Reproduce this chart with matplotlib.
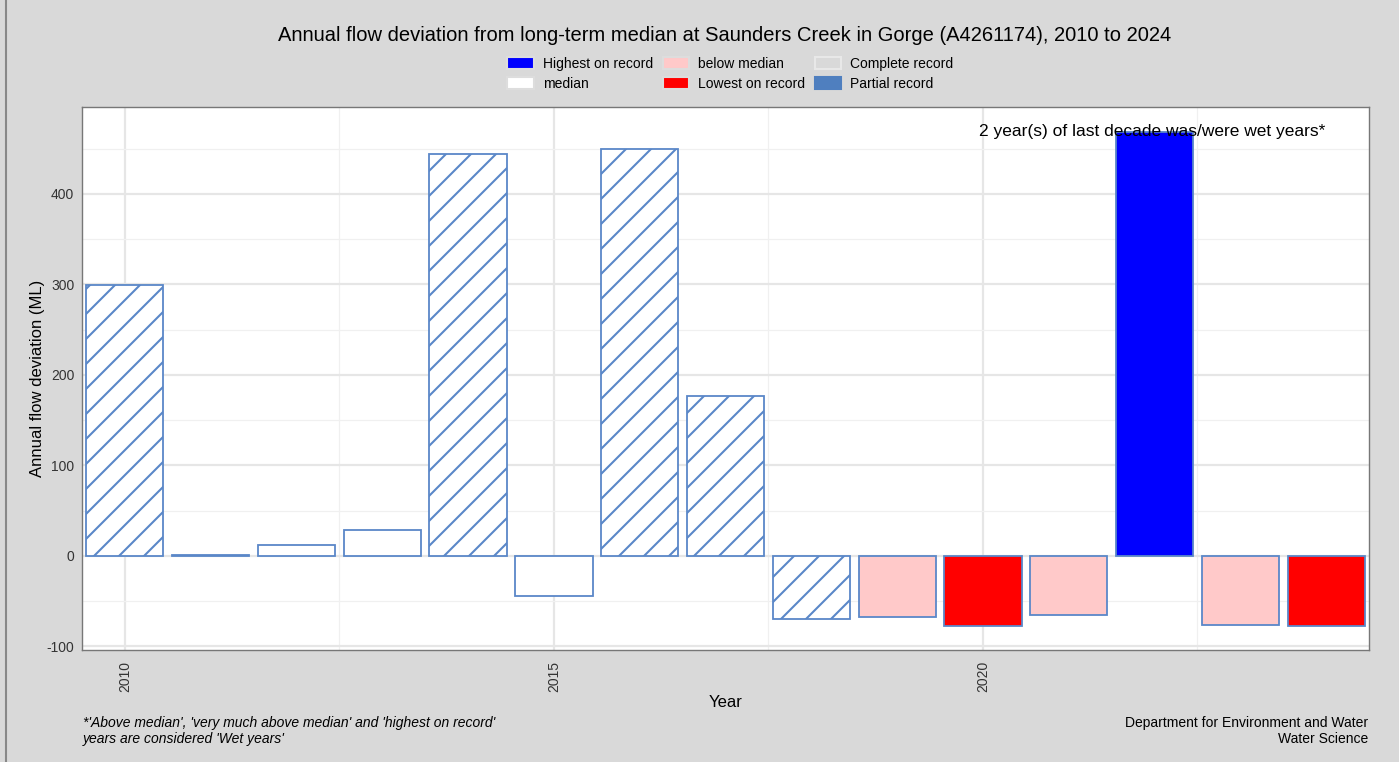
import matplotlib
matplotlib.use("Agg")
import matplotlib.pyplot as plt
from matplotlib.patches import Patch
from matplotlib.ticker import MultipleLocator

# drawn at 150 dpi so the hatch spacing matches; S converts 100-dpi sizes to points
DPI = 150
S = 100 / DPI

plt.rcParams['font.family'] = ['Liberation Sans', 'DejaVu Sans']
plt.rcParams['hatch.linewidth'] = 1.5 * S
plt.rcParams['axes.unicode_minus'] = False

# ---- data ----
years = [2010, 2011, 2012, 2013, 2014, 2015, 2016, 2017, 2018, 2019, 2020, 2021, 2022, 2023, 2024]
deviation = [299, 0.5, 12, 29, 444, -44, 450, 177, -70, -68, -78, -65, 468, -76, -78]
category = ["partial", "median", "median", "median", "partial", "median", "partial", "partial",
            "partial", "below", "lowest", "below", "highest", "below", "lowest"]

edge = "#5A87C8"
fills = {"highest": "#0000FF", "median": "#FFFFFF", "below": "#FFC9C9",
         "lowest": "#FF0000", "partial": "#FFFFFF"}

fig = plt.figure(figsize=(1399 / DPI, 762 / DPI), dpi=DPI, facecolor="#D9D9D9")
ax = fig.add_axes([0.0586, 0.147, 0.92, 0.7126])
ax.set_facecolor("white")

for y, v, c in zip(years, deviation, category):
    ax.bar(y, v, width=0.9, color=fills[c], edgecolor=edge, linewidth=1.3 * S,
           hatch="//" if c == "partial" else None, zorder=3)

ax.set_xlim(2009.5, 2024.5)
ax.set_ylim(-104, 496)
ax.xaxis.set_major_locator(MultipleLocator(5))
ax.xaxis.set_minor_locator(MultipleLocator(2.5))
ax.yaxis.set_major_locator(MultipleLocator(100))
ax.yaxis.set_minor_locator(MultipleLocator(50))
ax.grid(which="major", color="#E6E6E6", linewidth=1.6 * S, zorder=0)
ax.grid(which="minor", color="#F0F0F0", linewidth=0.9 * S, zorder=0)
ax.set_axisbelow(True)
ax.tick_params(which="both", length=0)
ax.tick_params(axis="y", labelsize=10 * S, colors="#333333", pad=5.5 * S)
ax.tick_params(axis="x", labelsize=10 * S, colors="#333333", labelrotation=90, pad=8 * S)
for s in ax.spines.values():
    s.set_color("#777777")
    s.set_linewidth(1.0 * S)

ax.set_xlabel("Year", fontsize=12 * S, labelpad=2 * S)
ax.set_ylabel("Annual flow deviation (ML)", fontsize=12 * S, labelpad=1 * S)

ax.text(0.966, 0.955, "2 year(s) of last decade was/were wet years*", transform=ax.transAxes,
        ha="right", va="center", fontsize=12.5 * S, zorder=5)

fig.text(0.518, 0.954,
         "Annual flow deviation from long-term median at Saunders Creek in Gorge (A4261174), 2010 to 2024",
         ha="center", va="center", fontsize=14.5 * S)

handles = [
    Patch(facecolor=fills["highest"], edgecolor="#DDDDDD", label="Highest on record"),
    Patch(facecolor="white", edgecolor="#DDDDDD", label="median"),
    Patch(facecolor=fills["below"], edgecolor="#DDDDDD", label="below median"),
    Patch(facecolor=fills["lowest"], edgecolor="#DDDDDD", label="Lowest on record"),
    Patch(facecolor="#D9D9D9", edgecolor="#E8E8E8", label="Complete record"),
    Patch(facecolor="#4F7FBF", edgecolor="#4F7FBF", label="Partial record"),
]
fig.legend(handles=handles, ncol=3, loc="center", bbox_to_anchor=(0.522, 0.903),
           frameon=False, fontsize=10 * S, handlelength=1.9, handleheight=1.0,
           columnspacing=0.7, handletextpad=0.65, labelspacing=0.45)

fig.text(0.059, 0.041, "*'Above median', 'very much above median' and 'highest on record'\nyears are considered 'Wet years'",
         fontsize=10 * S, style="italic", ha="left", va="center", linespacing=1.2)
fig.text(0.978, 0.041, "Department for Environment and Water\nWater Science",
         fontsize=10 * S, ha="right", va="center", linespacing=1.2, multialignment="right")

# left edge line of the panel
fig.add_artist(plt.Line2D([0.0045, 0.0045], [0, 1], transform=fig.transFigure,
                          color="#888888", linewidth=1.5 * S))

plt.savefig("out.png", dpi=DPI, facecolor=fig.get_facecolor())
